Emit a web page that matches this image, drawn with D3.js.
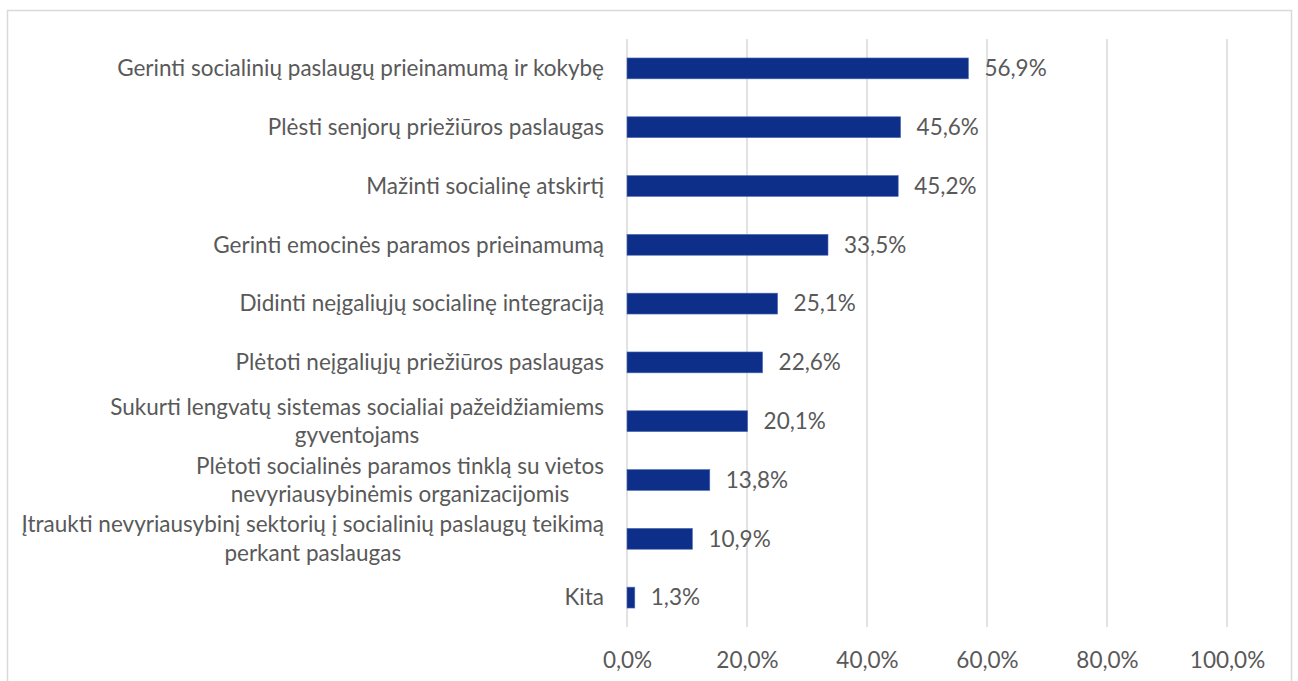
<!DOCTYPE html>
<html>
<head>
<meta charset="utf-8">
<script src="https://cdn.jsdelivr.net/npm/d3@7"></script>
<style>
  html, body { margin: 0; padding: 0; background: #fff; }
  svg { display: block; }
  text { font-family: Lato, "Open Sans", sans-serif; fill: #595959; }
</style>
</head>
<body>
<svg id="chart" width="1298" height="681"></svg>
<script>
// Survey answers: priority areas for social services
const categories = [
  "Gerinti socialinių paslaugų prieinamumą ir kokybę",
  "Plėsti senjorų priežiūros paslaugas",
  "Mažinti socialinę atskirtį",
  "Gerinti emocinės paramos prieinamumą",
  "Didinti neįgaliųjų socialinę integraciją",
  "Plėtoti neįgaliųjų priežiūros paslaugas",
  "Sukurti lengvatų sistemas socialiai pažeidžiamiems gyventojams",
  "Plėtoti socialinės paramos tinklą su vietos nevyriausybinėmis organizacijomis",
  "Įtraukti nevyriausybinį sektorių į socialinių paslaugų teikimą perkant paslaugas",
  "Kita"
];
const shares = [56.9, 45.6, 45.2, 33.5, 25.1, 22.6, 20.1, 13.8, 10.9, 1.3];
const tickValues = [0, 20, 40, 60, 80, 100];

const fmt = v => d3.format(".1f")(v).replace(".", ",") + "%";
const fontSize = "22.5px";

const svg = d3.select("#chart");

// chart frame
svg.append("rect")
  .attr("x", 7.5).attr("y", 10.5)
  .attr("width", 1284).attr("height", 700)
  .attr("fill", "#fff").attr("stroke", "#d9d9d9").attr("stroke-width", 1.5);

const plot = { left: 627, right: 1227, top: 39, bottom: 627 };

const x = d3.scaleLinear().domain([0, 100]).range([plot.left, plot.right]);
const y = d3.scaleBand().domain(categories)
  .range([plot.top, plot.bottom])
  .paddingInner(0.645).paddingOuter(0.3225);

// vertical gridlines
svg.append("g")
  .selectAll("line").data(tickValues).join("line")
  .attr("x1", d => x(d)).attr("x2", d => x(d))
  .attr("y1", plot.top).attr("y2", plot.bottom)
  .attr("stroke", "#d9d9d9").attr("stroke-width", 1.5);

// bottom axis labels
const xAxis = d3.axisBottom(x).tickValues(tickValues).tickSize(0).tickPadding(0).tickFormat(fmt);
const gx = svg.append("g").attr("transform", `translate(0,${plot.bottom})`).call(xAxis);
gx.select(".domain").remove();
gx.selectAll("text")
  .attr("y", 33).attr("dy", "0.35em")
  .style("font-size", fontSize).style("font-family", null).attr("fill", null);

// bars
svg.append("g")
  .selectAll("rect").data(shares).join("rect")
  .attr("x", x(0))
  .attr("y", (d, i) => y(categories[i]))
  .attr("width", d => x(d) - x(0))
  .attr("height", y.bandwidth())
  .attr("fill", "#0d2f8a")
  .attr("stroke", "#4f6db3").attr("stroke-width", 0.6);

// value labels
svg.append("g")
  .selectAll("text").data(shares).join("text")
  .attr("x", d => x(d) + 16)
  .attr("y", (d, i) => y(categories[i]) + y.bandwidth() / 2)
  .attr("dy", "0.35em")
  .style("font-size", fontSize)
  .text(d => fmt(d));

// category labels, wrapped to the space left of the plot
const maxLabelWidth = 595;
const lineHeight = 28.5;
const labelRight = 604;
const gy = svg.append("g");
categories.forEach(cat => {
  const t = gy.append("text").style("font-size", fontSize);
  const words = cat.split(" ");
  const lines = [];
  let cur = [];
  words.forEach(w => {
    t.text([...cur, w].join(" "));
    if (cur.length && t.node().getComputedTextLength() > maxLabelWidth) {
      lines.push(cur.join(" "));
      cur = [w];
    } else {
      cur.push(w);
    }
  });
  lines.push(cur.join(" "));
  t.text(null);
  // measure each line so the lines are centred inside the right-aligned block
  const widths = lines.map(l => { t.text(l); const w = t.node().getComputedTextLength(); t.text(null); return w; });
  const blockW = d3.max(widths);
  const cy = y(cat) + y.bandwidth() / 2;
  const y0 = cy - (lines.length - 1) * lineHeight / 2;
  t.attr("text-anchor", "middle");
  lines.forEach((l, i) => {
    t.append("tspan")
      .attr("x", labelRight - blockW / 2)
      .attr("y", y0 + i * lineHeight)
      .attr("dy", "0.35em")
      .text(l);
  });
});
</script>
</body>
</html>
